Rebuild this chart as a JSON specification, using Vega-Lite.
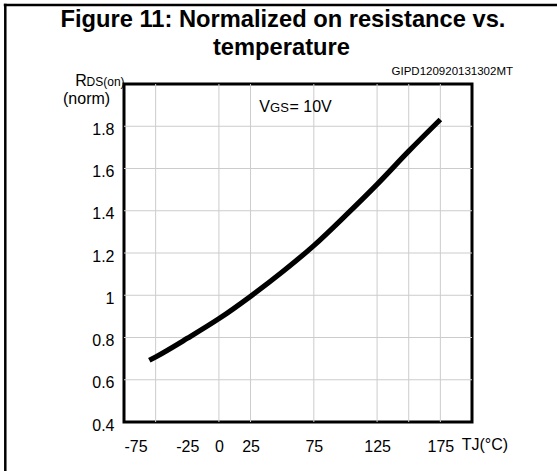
{
  "$schema": "https://vega.github.io/schema/vega-lite/v6.json",
  "width": 348,
  "height": 338,
  "autosize": {"type": "none"},
  "padding": {"left": 124, "top": 84, "right": 85, "bottom": 49},
  "background": "white",
  "config": {
    "view": {"stroke": "black", "strokeWidth": 3},
    "font": "Liberation Sans",
    "axis": {"domain": false, "ticks": false, "grid": false, "labelColor": "black", "labelFont": "Liberation Sans", "labelFontSize": 16, "title": null}
  },
  "datasets": {
    "curve": [
      {"T": -55, "R": 0.692},
      {"T": -50, "R": 0.708},
      {"T": -25, "R": 0.796},
      {"T": 0, "R": 0.889},
      {"T": 25, "R": 0.995},
      {"T": 50, "R": 1.11},
      {"T": 75, "R": 1.235},
      {"T": 100, "R": 1.377},
      {"T": 125, "R": 1.525},
      {"T": 150, "R": 1.682},
      {"T": 175, "R": 1.832}
    ],
    "vgrid": [{"g": -50}, {"g": 0}, {"g": 25}, {"g": 75}, {"g": 125}, {"g": 150}, {"g": 175}],
    "hgrid": [{"g": 0.6}, {"g": 0.8}, {"g": 1.0}, {"g": 1.2}, {"g": 1.4}, {"g": 1.6}, {"g": 1.8}]
  },
  "layer": [
    {
      "data": {"name": "vgrid"},
      "mark": {"type": "rule", "color": "#cccccc", "strokeWidth": 1},
      "encoding": {
        "x": {"field": "g", "type": "quantitative", "scale": {"domain": [-75, 200], "nice": false, "zero": false},
          "axis": {"values": [-75, -25, 0, 25, 75, 125, 175], "labelPadding": 16, "labelExpr": "'' + datum.value"}}
      }
    },
    {
      "data": {"name": "hgrid"},
      "mark": {"type": "rule", "color": "#cccccc", "strokeWidth": 1},
      "encoding": {
        "y": {"field": "g", "type": "quantitative", "scale": {"domain": [0.4, 2.0], "nice": false, "zero": false},
          "axis": {"values": [0.4, 0.6, 0.8, 1.0, 1.2, 1.4, 1.6, 1.8], "labelPadding": 10, "labelOffset": 3,
            "labelExpr": "datum.value == 1 ? '1' : format(datum.value, '.1f')"}}
      }
    },
    {
      "data": {"name": "curve"},
      "mark": {"type": "line", "color": "black", "strokeWidth": 5.2, "interpolate": "monotone", "strokeCap": "butt"},
      "encoding": {
        "x": {"field": "T", "type": "quantitative"},
        "y": {"field": "R", "type": "quantitative"}
      }
    },
    {
      "data": {"values": [{}]},
      "mark": {"type": "rule", "color": "black", "strokeWidth": 2.5},
      "encoding": {"x": {"datum": -170}, "x2": {"datum": 268}, "y": {"datum": 2.374}}
    },
    {
      "data": {"values": [{}]},
      "mark": {"type": "rule", "color": "black", "strokeWidth": 2.5},
      "encoding": {"x": {"datum": -168.8}, "y": {"datum": 2.38}, "y2": {"datum": 0.16}}
    },
    {
      "data": {"values": [{}]},
      "mark": {"type": "text", "font": "Liberation Sans", "fontSize": 23.7, "fontWeight": "bold", "align": "center", "baseline": "alphabetic", "color": "black"},
      "encoding": {"x": {"datum": 50.6}, "y": {"datum": 2.27}, "text": {"value": "Figure 11: Normalized on resistance vs."}}
    },
    {
      "data": {"values": [{}]},
      "mark": {"type": "text", "font": "Liberation Sans", "fontSize": 23.7, "fontWeight": "bold", "align": "center", "baseline": "alphabetic", "color": "black"},
      "encoding": {"x": {"datum": 49.4}, "y": {"datum": 2.139}, "text": {"value": "temperature"}}
    },
    {
      "data": {"values": [{}]},
      "mark": {"type": "text", "font": "Liberation Sans", "fontSize": 11.5, "align": "right", "baseline": "alphabetic", "color": "black"},
      "encoding": {"x": {"datum": 232.4}, "y": {"datum": 2.044}, "text": {"value": "GIPD120920131302MT"}}
    },
    {
      "data": {"values": [{}]},
      "mark": {"type": "text", "font": "Liberation Sans", "fontSize": 16, "align": "left", "baseline": "alphabetic", "color": "black"},
      "encoding": {"x": {"datum": -113.5}, "y": {"datum": 1.992}, "text": {"value": "R"}}
    },
    {
      "data": {"values": [{}]},
      "mark": {"type": "text", "font": "Liberation Sans", "fontSize": 12, "align": "left", "baseline": "alphabetic", "color": "black"},
      "encoding": {"x": {"datum": -104.6}, "y": {"datum": 1.992}, "text": {"value": "DS(on)"}}
    },
    {
      "data": {"values": [{}]},
      "mark": {"type": "text", "font": "Liberation Sans", "fontSize": 16, "align": "left", "baseline": "alphabetic", "color": "black"},
      "encoding": {"x": {"datum": -123.2}, "y": {"datum": 1.905}, "text": {"value": "(norm)"}}
    },
    {
      "data": {"values": [{}]},
      "mark": {"type": "text", "font": "Liberation Sans", "fontSize": 16, "align": "right", "baseline": "alphabetic", "color": "black"},
      "encoding": {"x": {"datum": 40.4}, "y": {"datum": 1.866}, "text": {"value": "V"}}
    },
    {
      "data": {"values": [{}]},
      "mark": {"type": "text", "font": "Liberation Sans", "fontSize": 13, "align": "left", "baseline": "alphabetic", "color": "black"},
      "encoding": {"x": {"datum": 40.4}, "y": {"datum": 1.866}, "text": {"value": "GS"}}
    },
    {
      "data": {"values": [{}]},
      "mark": {"type": "text", "font": "Liberation Sans", "fontSize": 16, "align": "left", "baseline": "alphabetic", "color": "black"},
      "encoding": {"x": {"datum": 55.8}, "y": {"datum": 1.866}, "text": {"value": "= 10V"}}
    },
    {
      "data": {"values": [{}]},
      "mark": {"type": "text", "font": "Liberation Sans", "fontSize": 16, "align": "left", "baseline": "alphabetic", "color": "black"},
      "encoding": {"x": {"datum": 191.9}, "y": {"datum": 0.267}, "text": {"value": "TJ(°C)"}}
    }
  ]
}
